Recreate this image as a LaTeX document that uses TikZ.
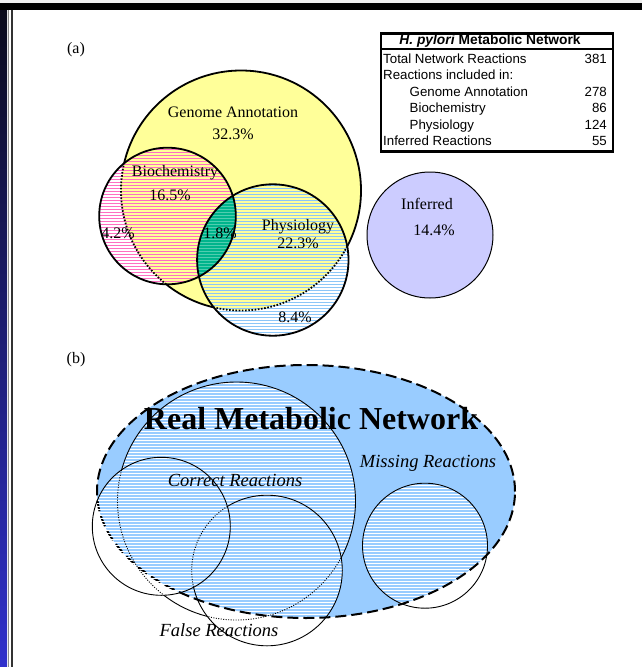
\documentclass[tikz,border=0pt]{standalone}
\usepackage{fontspec}
\setmainfont{Liberation Serif}
\newfontfamily\tablefont{Liberation Sans}
\definecolor{annoyellow}{RGB}{255,255,153}
\definecolor{biopink}{RGB}{255,110,195}
\definecolor{physblue}{RGB}{140,198,248}
\definecolor{lensgreen}{RGB}{0,180,140}
\definecolor{lensline}{RGB}{80,205,175}
\definecolor{inferlilac}{RGB}{204,204,255}
\definecolor{netblue}{RGB}{153,204,255}
\definecolor{stripetop}{RGB}{10,10,26}
\definecolor{stripebot}{RGB}{48,48,204}
\begin{document}
\begin{tikzpicture}[x=1pt,y=-1pt,
  rim/.style={line width=1.8pt},
  dotrim/.style={line width=1.8pt,dash pattern=on 1.6pt off 1.6pt},
  thinrim/.style={line width=0.9pt},
  thindot/.style={line width=0.9pt,dash pattern=on 1pt off 1.5pt},
  hatchline/.style={line width=1pt},
  pct/.style={font=\fontsize{16}{19}\selectfont, inner sep=0pt},
  caption/.style={font=\fontsize{18.5}{22}\selectfont\itshape, inner sep=0pt},
  tab/.style={font=\tablefont\fontsize{13.3}{15}\selectfont, inner sep=0pt,
              text height=9.6pt, text depth=2.8pt},
]
\useasboundingbox (0,0) rectangle (642,667);

% ---------- page frame ----------
\fill[black!6] (0,0) rectangle (642,3);
\shade[top color=stripetop, bottom color=stripebot] (0,3) rectangle (7,667);
\fill[black] (0,3) rectangle (642,10);
\draw[black!45, line width=1.2pt] (8.4,10) -- (8.4,667);
\draw[black!80, line width=1.2pt] (12,10) -- (12,667);

% ---------- panel (a): Venn diagram ----------
\coordinate (gen) at (241,190.5);
\coordinate (bio) at (167.5,216);
\coordinate (phy) at (272.8,260);
\coordinate (inf) at (430,235);

\node[pct] (lbla) at (76,50) {(a)};

% genome annotation disc
\fill[annoyellow] (gen) circle (120pt);

% biochemistry stripes
\begin{scope}
  \clip (bio) circle (68.3pt);
  \foreach \hy in {140,143,...,350} \draw[hatchline, biopink] (90,\hy) -- (370,\hy);
\end{scope}
% physiology stripes
\begin{scope}
  \clip (phy) circle (75.7pt);
  \foreach \hy in {140,143,...,350} \draw[hatchline, physblue] (90,\hy) -- (370,\hy);
\end{scope}
% overlap of biochemistry and physiology
\begin{scope}
  \clip (bio) circle (68.3pt);
  \fill[lensgreen] (phy) circle (75.7pt);
  \clip (phy) circle (75.7pt);
  \foreach \hy in {140,143,...,350} \draw[hatchline, lensline] (90,\hy) -- (370,\hy);
\end{scope}

% genome outline: solid outside the other sets, dotted inside them
\begin{scope}[even odd rule]
  \clip (60,40) rectangle (380,360) (bio) circle (68.3pt) (phy) circle (75.7pt);
  \draw[rim] (gen) circle (120pt);
\end{scope}
\begin{scope}
  \clip (bio) circle (68.3pt) (phy) circle (75.7pt);
  \draw[dotrim] (gen) circle (120pt);
\end{scope}
\draw[rim] (bio) circle (68.3pt);
\draw[rim] (phy) circle (75.7pt);

% inferred reactions
\fill[inferlilac] (inf) circle (63pt);
\draw[line width=1pt] (inf) circle (63pt);

\node[pct] (gentxt) at (233,112) {Genome Annotation};
\node[pct] (genpct) at (233,134) {32.3\%};
\node[pct] (biotxt) at (175,173) {Biochemistry};
\node[pct] (biopct) at (170,195) {16.5\%};
\node[pct] (bioonly) at (118,233) {4.2\%};
\node[pct] (lenspct) at (220,233) {1.8\%};
\node[pct] (phytxt) at (298,227) {Physiology};
\node[pct] (phypct) at (298,243) {22.3\%};
\node[pct] (phyonly) at (295,317) {8.4\%};
\node[pct] (inftxt) at (427,204) {Inferred};
\node[pct] (infpct) at (434,230) {14.4\%};

% ---------- summary table ----------
\draw[line width=2.4pt] (381,33.5) rectangle (613,151.5);
\draw[line width=1.8pt] (381,49) -- (613,49);
\node[tab, font=\tablefont\fontsize{13.8}{15}\selectfont\bfseries] (thead) at (490,41.5)
  {\textit{H. pylori} Metabolic Network};
\node[tab, anchor=west] (r1) at (383,60) {Total Network Reactions};
\node[tab, anchor=east] (v1) at (607,60) {381};
\node[tab, anchor=west] (r2) at (383,76.5) {Reactions included in:};
\node[tab, anchor=west] (r3) at (409.5,93) {Genome Annotation};
\node[tab, anchor=east] (v3) at (607,93) {278};
\node[tab, anchor=west] (r4) at (409.5,109.5) {Biochemistry};
\node[tab, anchor=east] (v4) at (607,109.5) {86};
\node[tab, anchor=west] (r5) at (409.5,126) {Physiology};
\node[tab, anchor=east] (v5) at (607,126) {124};
\node[tab, anchor=west] (r6) at (383,142.5) {Inferred Reactions};
\node[tab, anchor=east] (v6) at (607,142.5) {55};

% ---------- panel (b): real network and reconstruction ----------
\coordinate (net) at (306,491.5);
\coordinate (cor) at (236.5,501);
\coordinate (fl) at (161.3,526.3);
\coordinate (fb) at (267,570.5);
\coordinate (mis) at (425,545.7);

\node[pct] (lblb) at (76,360) {(b)};

\fill[netblue] (net) ellipse (209pt and 126.5pt);
\begin{scope}
  \clip (net) ellipse (209pt and 126.5pt);
  \clip (cor) circle (119pt) (fl) circle (69pt) (fb) circle (75.3pt) (mis) circle (62.5pt);
  \foreach \hy in {380,383,...,650} \draw[hatchline, white] (85,\hy) -- (520,\hy);
\end{scope}
\draw[line width=2pt, dash pattern=on 11pt off 5pt] (net) ellipse (209pt and 126.5pt);
\begin{scope}
  \clip (fl) circle (69pt);
  \foreach \hy in {380,383,...,650} \draw[hatchline, white] (85,\hy) -- (520,\hy);
\end{scope}

% correct reactions: dotted where it runs inside the false sets
\begin{scope}[even odd rule]
  \clip (60,360) rectangle (540,667) (fl) circle (69pt);
  \clip (60,360) rectangle (540,667) (fb) circle (75.3pt);
  \draw[thinrim] (cor) circle (119pt);
\end{scope}
\begin{scope}
  \clip (fl) circle (69pt) (fb) circle (75.3pt);
  \draw[thindot] (cor) circle (119pt);
\end{scope}
% lower false set: dotted inside the left false set
\begin{scope}[even odd rule]
  \clip (60,360) rectangle (540,667) (fl) circle (69pt);
  \draw[thinrim] (fb) circle (75.3pt);
\end{scope}
\begin{scope}
  \clip (fl) circle (69pt);
  \draw[thindot] (fb) circle (75.3pt);
\end{scope}
\draw[thinrim] (fl) circle (69pt);
\draw[thinrim] (mis) circle (62.5pt);

\node[inner sep=0pt, font=\fontsize{32}{36}\selectfont\bfseries] (realnet) at (311,419) {Real Metabolic Network};
\node[caption] (cortxt) at (235,480) {Correct Reactions};
\node[caption] (mistxt) at (428,463) {Missing Reactions};
\node[caption] (falsetxt) at (219,630) {False Reactions};
\end{tikzpicture}
\end{document}
